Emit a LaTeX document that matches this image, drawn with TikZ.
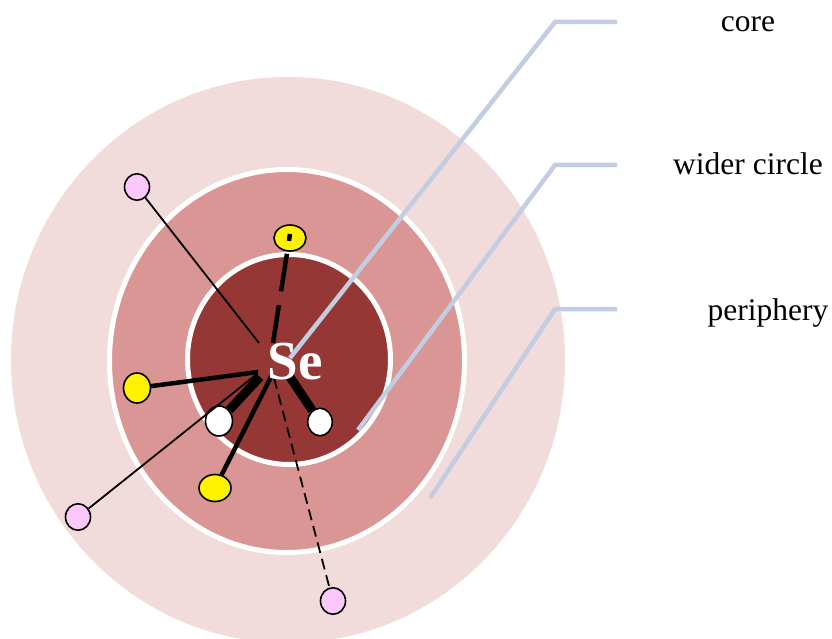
\documentclass[tikz,border=0pt]{standalone}
\usepackage{fontspec}
\setmainfont{Liberation Serif}
\usetikzlibrary{shapes.geometric}
\definecolor{peri}{HTML}{F2DCDB}
\definecolor{wide}{HTML}{D99694}
\definecolor{coreC}{HTML}{953735}
\definecolor{lead}{HTML}{C2CDE1}
\definecolor{pinkball}{HTML}{FCC8FC}
\begin{document}
\begin{tikzpicture}[x=1pt,y=-1pt,
  ball/.style={ellipse,draw=black,line width=1.6pt,inner sep=0pt},
  pinkb/.style={ball,fill=pinkball,minimum width=25pt,minimum height=26.5pt},
  yelb/.style={ball,fill=yellow},
  whiteb/.style={ball,fill=white},
  ring/.style={draw=white,line width=5pt},
  leader/.style={draw=lead,line width=4.5pt},
  thinl/.style={draw=black,line width=1.8pt},
  thickl/.style={draw=black,line width=4.5pt},
  wedge/.style={draw=black,line width=9pt},
  lbl/.style={anchor=base,inner sep=0pt,font=\fontsize{31.5}{36}\selectfont}]
\useasboundingbox (0,0) rectangle (832,639);
% zones
\fill[peri] (288,360) ellipse [x radius=277,y radius=283];
\path[fill=wide,ring] (287,361) ellipse [x radius=177.5,y radius=191.5];
\path[fill=coreC,ring] (289,359.5) ellipse [x radius=101.5,y radius=105];
% balls
\node[pinkb] (p1) at (137,187) {};
\node[pinkb] (p2) at (78,517) {};
\node[pinkb] (p3) at (333,601) {};
\node[yelb,minimum width=32pt,minimum height=26pt] (y1) at (290,238) {};
\node[yelb,minimum width=27pt,minimum height=30pt] (y2) at (137,388) {};
\node[yelb,minimum width=32pt,minimum height=27pt] (y3) at (215,488) {};
\node[whiteb,minimum width=27pt,minimum height=30pt] (w1) at (219,421) {};
\node[whiteb,minimum width=24.5pt,minimum height=27.5pt] (w2) at (320,422) {};
% bond ends near Se
\coordinate (a1) at (259,343);
\coordinate (c1) at (258,372);
\coordinate (c1b) at (257,374);
\coordinate (c2) at (260,377);
\coordinate (c3) at (273,373);
\coordinate (c4) at (274,378);
\coordinate (c5) at (290,377);
\coordinate (c6) at (273,343);
\coordinate (y1in) at (290,234);
% bonds
\draw[thinl] (p1) -- (a1);
\draw[thickl] (y2) -- (c1);
\draw[thinl] (p2) -- (c1b);
\draw[wedge] (c2) -- (w1);
\draw[thickl] (c3) -- (y3);
\draw[thinl,dash pattern=on 11pt off 6pt] (c4) -- (p3);
\draw[wedge] (c5) -- (w2);
\draw[thickl,dash pattern=on 7pt off 13pt on 38pt off 14pt on 40pt off 20pt] (y1in) -- (c6);
% Se
\node[anchor=base,inner sep=0pt,text=white,font=\bfseries\fontsize{55}{60}\selectfont] (se) at (295,379) {Se};
% leaders
\coordinate (k1) at (290,358);
\coordinate (k2) at (555,22);
\coordinate (k3) at (617,22);
\coordinate (m1) at (358,430);
\coordinate (m2) at (555,165);
\coordinate (m3) at (617,165);
\coordinate (q1) at (430,498);
\coordinate (q2) at (555,309);
\coordinate (q3) at (617,309);
\draw[leader] (k1) -- (k2) -- (k3);
\draw[leader] (m1) -- (m2) -- (m3);
\draw[leader] (q1) -- (q2) -- (q3);
% labels
\node[lbl] (lcore) at (748,32) {core};
\node[lbl] (lwide) at (748,175) {wider circle};
\node[lbl] (lperi) at (768,320) {periphery};
\end{tikzpicture}
\end{document}
